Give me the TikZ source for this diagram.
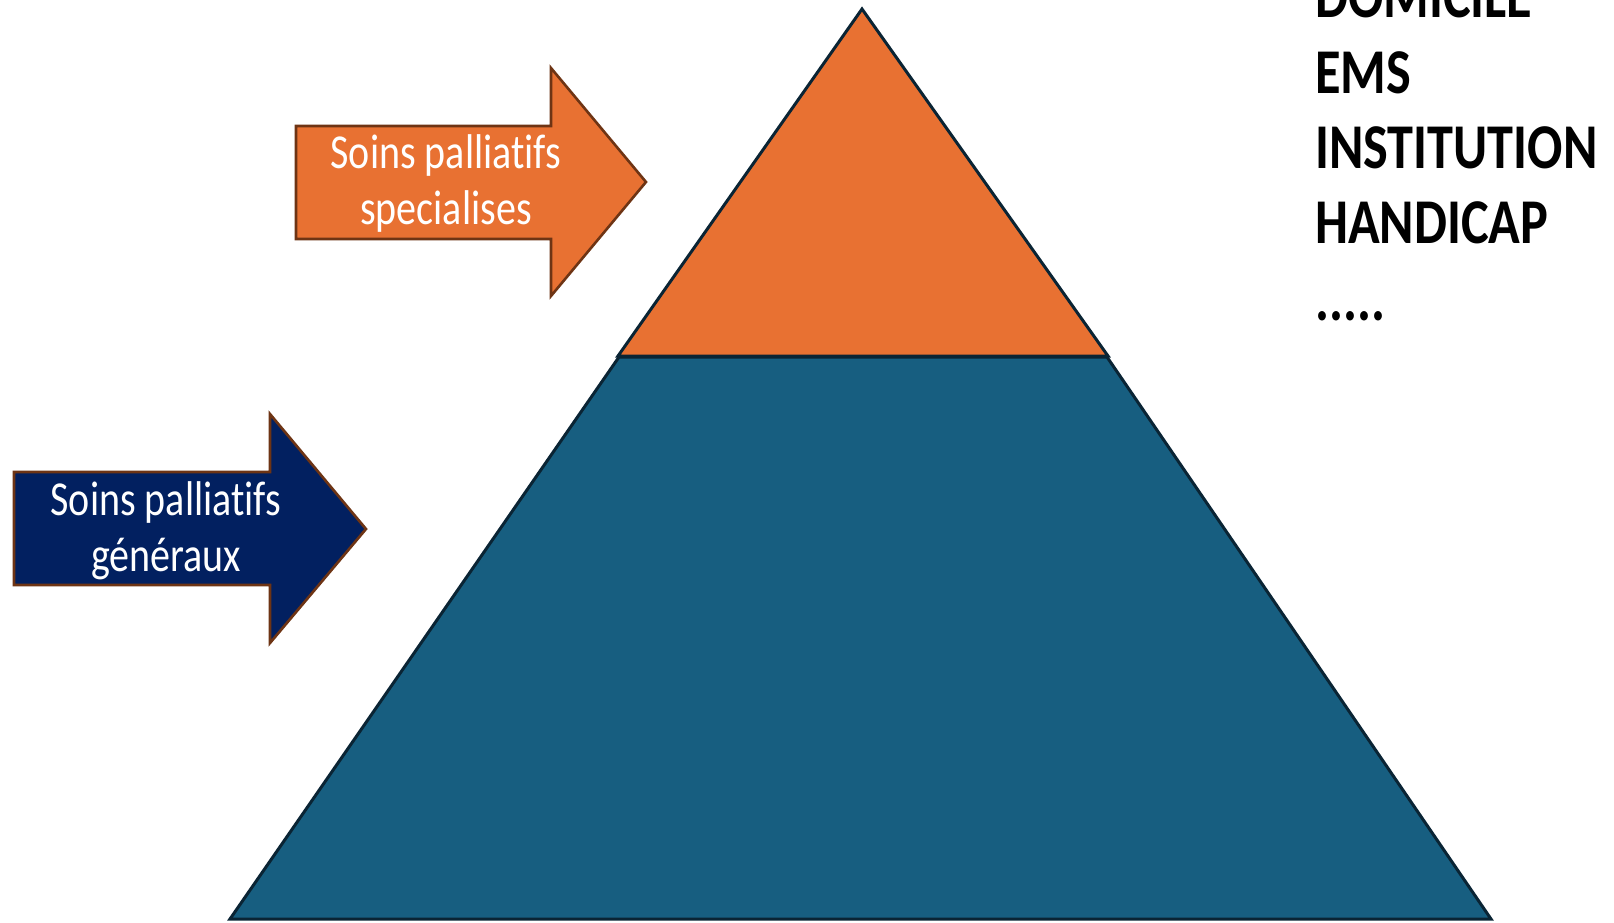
\documentclass[tikz,border=0pt]{standalone}
\usepackage{fontspec}
\setmainfont{Carlito}[Ligatures=NoCommon]
\usepackage{graphicx}
\definecolor{topfill}{RGB}{232,113,50}
\definecolor{basefill}{RGB}{23,94,128}
\definecolor{navyfill}{RGB}{2,32,96}
\definecolor{pyredge}{RGB}{10,36,52}
\definecolor{arrowedge}{RGB}{110,52,20}
\tikzset{
  pyr/.style={draw=pyredge, line width=3pt, line join=miter},
  bigarrow/.style={draw=arrowedge, line width=2.6pt, line join=miter},
  arrowtext/.style={text=white, inner sep=0pt, font=\fontsize{40}{46}\selectfont},
  sitetext/.style={anchor=base west, inner sep=0pt, font=\fontsize{52.3}{60}\selectfont\bfseries},
}
\newcommand{\tall}[1]{\scalebox{1}[1.22]{#1}}
\begin{document}
\begin{tikzpicture}[x=1pt, y=-1pt]
  \useasboundingbox (0,0) rectangle (1614,922);
  \clip (0,0) rectangle (1614,922);
  \fill[white] (0,0) rectangle (1614,922);

  % pyramid: lower band and top triangle
  \draw[pyr, fill=basefill] (619,357) -- (1107,357) -- (1491,919) -- (230,919) -- cycle;
  \draw[pyr, fill=topfill] (862,9) -- (1108,356) -- (618,356) -- cycle;

  % arrow for specialised care
  \draw[bigarrow, fill=topfill] (296,126) -- (551,126) -- (551,68) -- (646,182)
        -- (551,296) -- (551,239) -- (296,239) -- cycle;
  \node[arrowtext] (spec) at (446,185)
    {\tall{\begin{tabular}{@{}c@{}}Soins palliatifs\\specialises\end{tabular}}};

  % arrow for general care
  \draw[bigarrow, fill=navyfill] (14,472) -- (270,472) -- (270,414) -- (366,529)
        -- (270,643) -- (270,585) -- (14,585) -- cycle;
  \node[arrowtext] (gen) at (166,532)
    {\tall{\begin{tabular}{@{}c@{}}Soins palliatifs\\généraux\end{tabular}}};

  % care settings
  \node[sitetext] (dom)  at (1315,17)  {\tall{DOMICILE}};
  \node[sitetext] (ems)  at (1315,93)  {\tall{EMS}};
  \node[sitetext] (inst) at (1315,168) {\tall{INSTITUTION}};
  \node[sitetext] (hand) at (1315,243) {\tall{HANDICAP}};
  \node[sitetext] (more) at (1315,320) {\tall{.....}};
\end{tikzpicture}
\end{document}
